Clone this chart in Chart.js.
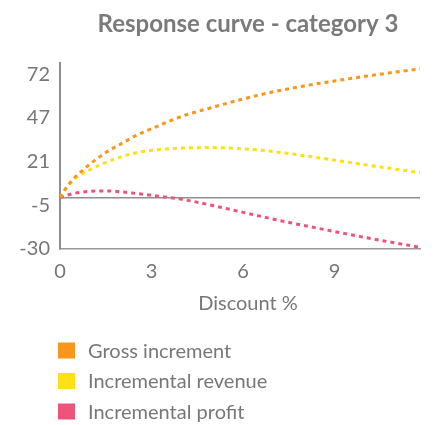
<!DOCTYPE html>
<html>
<head>
<meta charset="utf-8">
<script src="https://cdn.jsdelivr.net/npm/chart.js@4"></script>
<style>
  html, body { margin: 0; padding: 0; background: #fff; }
  #wrap { width: 438px; height: 425px; }
</style>
</head>
<body>
<div id="wrap"><canvas id="curveChart"></canvas></div>
<script>
// discount % and the three response curves
var discount = [0, 0.25, 0.5, 1, 1.5, 2, 2.5, 3, 4, 5, 6, 7, 8, 9, 10, 11, 11.8];
var grossIncrement = [0, 7, 12, 19.8, 26.3, 31.4, 36.3, 40.2, 47.5, 52.7, 57.6, 61.8, 65.2, 68.1, 70.8, 73.3, 75.2];
var incrementalRevenue = [0, 6.5, 11.3, 16.4, 20.5, 23.8, 26.2, 27.6, 28.9, 29.2, 28.5, 26.9, 24.5, 21.9, 19.2, 16.6, 14.6];
var incrementalProfit = [0, 1.5, 2.6, 3.7, 3.9, 3.4, 2.4, 1.3, -1.0, -4.6, -8.6, -12.6, -16.3, -19.8, -23.3, -26.5, -29];

var xTicks = [0, 3, 6, 9];
var yTicks = [-30, -4.5, 21, 46.5, 72];
var yTickLabels = ["-30", "-5", "21", "47", "72"];

var seriesNames = ["Gross increment", "Incremental revenue", "Incremental profit"];
var seriesColors = ["#f7971c", "#ffe015", "#ee5479"];

function points(values) {
  return values.map(function (v, i) {
    return { x: discount[i], y: v };
  });
}

function lineSet(i, values) {
  return {
    label: seriesNames[i],
    data: points(values),
    borderColor: seriesColors[i],
    backgroundColor: seriesColors[i],
    borderWidth: 3,
    borderDash: [4, 4],
    pointRadius: 0,
    fill: false,
    cubicInterpolationMode: "monotone",
  };
}

// titles sit a little right of the plot centre; legend is stacked below
var extras = {
  id: "extras",
  afterLayout: function (chart) {
    chart.titleBlock.left += 8;
    chart.titleBlock.right += 8;
  },
  afterDraw: function (chart) {
    var ctx = chart.ctx;
    var area = chart.chartArea;
    ctx.save();
    ctx.font = "20px Lato";
    ctx.textBaseline = "middle";
    ctx.fillStyle = "#777";
    ctx.textAlign = "center";
    ctx.fillText("Discount %", (area.left + area.right) / 2 + 8, area.bottom + 55);

    ctx.textAlign = "left";
    var top = area.bottom + 101.5;
    chart.data.datasets.forEach(function (ds, i) {
      var y = top + i * 30.5;
      ctx.fillStyle = ds.borderColor;
      ctx.fillRect(58, y - 8, 17, 16);
      ctx.fillStyle = "#777";
      ctx.fillText(ds.label, 88, y + 1);
    });
    ctx.restore();
  },
};

document.addEventListener("DOMContentLoaded", function () {
  Chart.defaults.font.family = "Lato";
  Chart.defaults.color = "#777";

  var ctx = document.getElementById("curveChart").getContext("2d");
  new Chart(ctx, {
    type: "line",
    data: {
      datasets: [
        lineSet(0, grossIncrement),
        lineSet(1, incrementalRevenue),
        lineSet(2, incrementalProfit),
      ],
    },
    plugins: [extras],
    options: {
      responsive: true,
      maintainAspectRatio: false,
      animation: false,
      layout: { padding: { left: 0, right: 18, top: 0, bottom: 109 } },
      scales: {
        x: {
          type: "linear",
          min: 0,
          max: 11.8,
          afterBuildTicks: function (axis) {
            axis.ticks = xTicks.map(function (v) { return { value: v }; });
          },
          afterFit: function (axis) {
            axis.height = 67;
          },
          grid: { display: false, drawTicks: false },
          border: { color: "#999", width: 1.5 },
          ticks: { color: "#777", font: { size: 20 }, padding: 11 },
          title: { display: false },
        },
        y: {
          min: -30,
          max: 78.6,
          afterBuildTicks: function (axis) {
            axis.ticks = yTicks.concat([0]).map(function (v) { return { value: v }; });
          },
          afterFit: function (axis) {
            axis.width = 60;
          },
          grid: {
            drawTicks: false,
            lineWidth: 1.5,
            color: function (c) {
              return c.tick && c.tick.value === 0 ? "#8f8f8f" : "rgba(0,0,0,0)";
            },
          },
          border: { color: "#8f8f8f", width: 2 },
          ticks: {
            color: "#777",
            font: { size: 20 },
            padding: 10,
            callback: function (value) {
              var i = yTicks.indexOf(value);
              return i < 0 ? "" : yTickLabels[i];
            },
          },
        },
      },
      plugins: {
        legend: { display: false },
        tooltip: { enabled: false },
        title: {
          display: true,
          fullSize: false,
          text: "Response curve - category 3",
          color: "#7a7a7a",
          font: { size: 24, weight: "bold" },
          padding: { top: 9.5, bottom: 24.7 },
        },
      },
    },
  });
});
</script>
</body>
</html>
